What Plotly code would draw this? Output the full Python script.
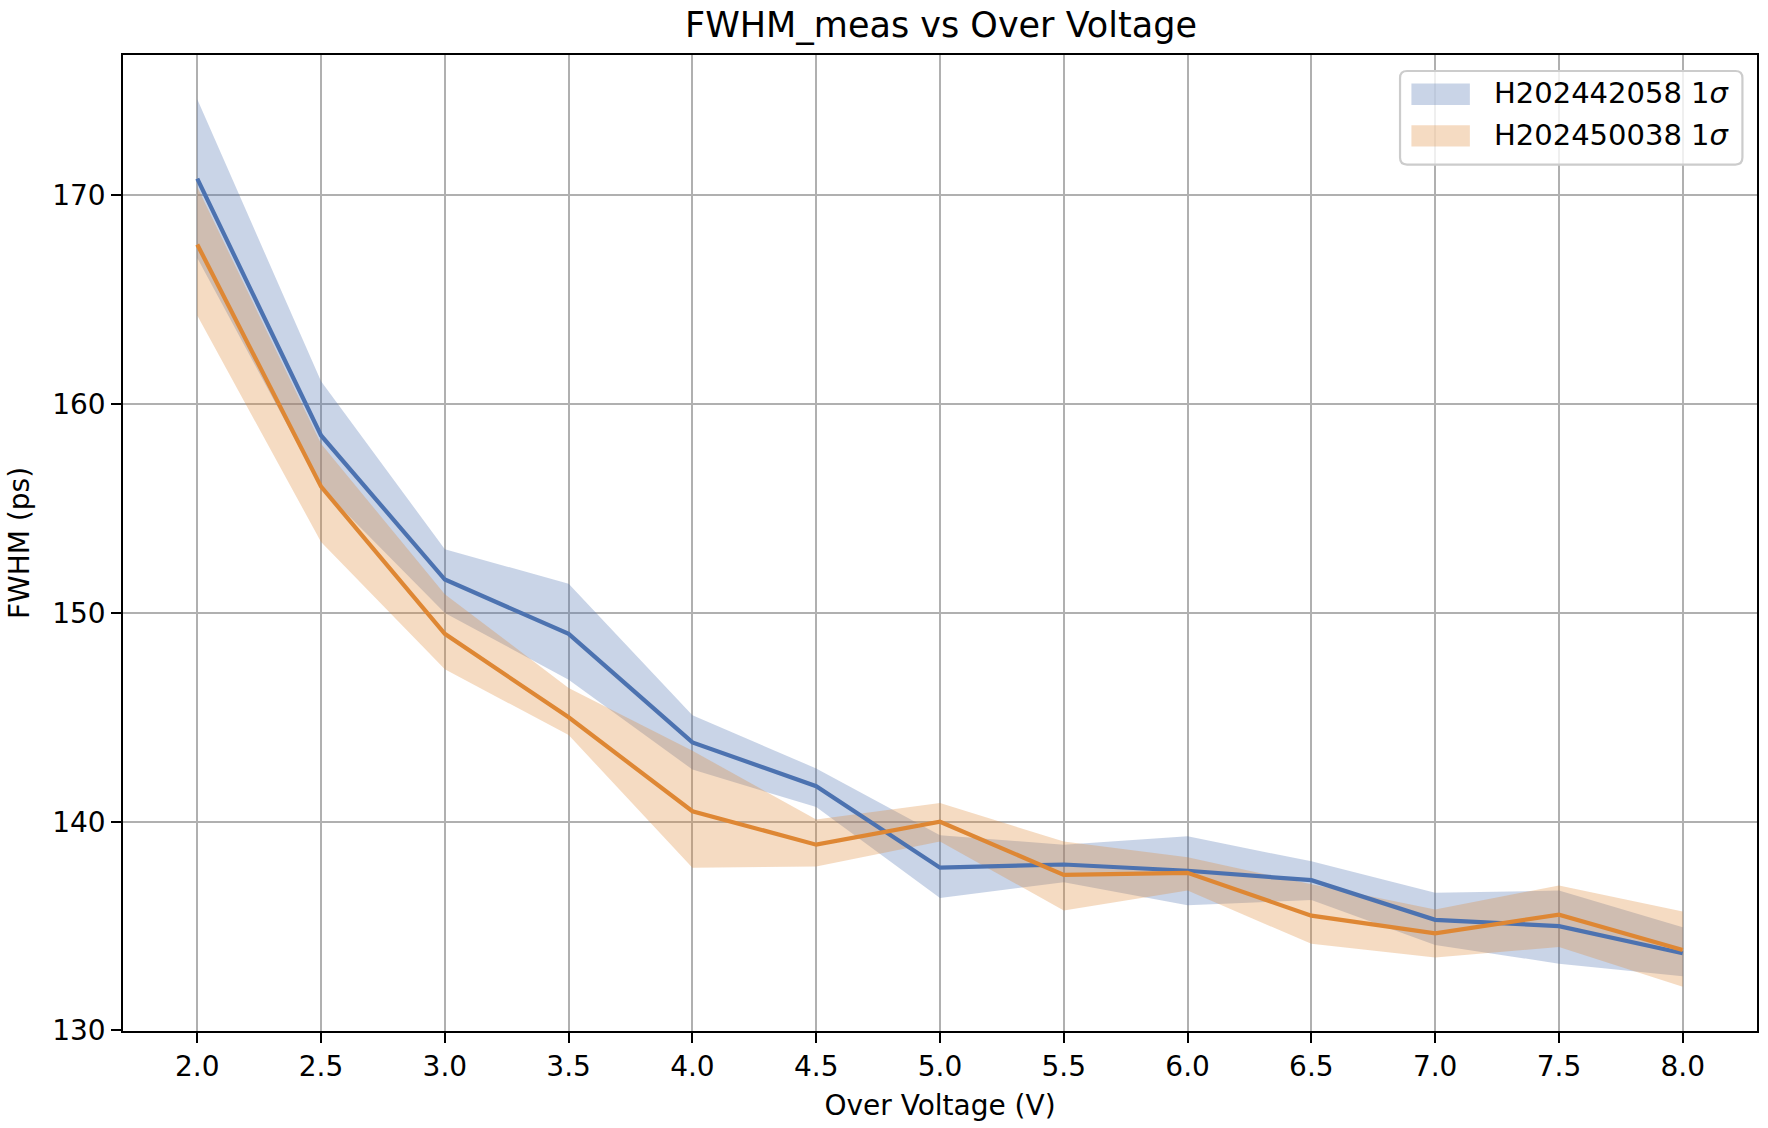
import plotly.graph_objects as go

over_voltage = [2.0, 2.5, 3.0, 3.5, 4.0, 4.5, 5.0, 5.5, 6.0, 6.5, 7.0, 7.5, 8.0]

blue_name = "H202442058 1<i>σ</i>"
blue_mean = [170.8, 158.5, 151.6, 149.0, 143.8, 141.7, 137.8, 137.95, 137.65, 137.2, 135.3, 135.0, 133.7]
blue_upper = [174.6, 161.1, 153.05, 151.4, 145.1, 142.55, 139.35, 138.9, 139.3, 138.1, 136.6, 136.7, 134.95]
blue_lower = [167.0, 156.0, 150.0, 146.8, 142.5, 140.7, 136.35, 137.1, 136.0, 136.25, 134.1, 133.2, 132.6]

orange_name = "H202450038 1<i>σ</i>"
orange_mean = [167.65, 156.05, 149.0, 145.0, 140.5, 138.9, 140.0, 137.45, 137.55, 135.5, 134.65, 135.55, 133.85]
orange_upper = [170.4, 158.1, 150.9, 146.4, 143.4, 140.1, 140.9, 139.05, 138.3, 137.0, 135.8, 136.95, 135.7]
orange_lower = [164.25, 153.4, 147.3, 144.15, 137.8, 137.85, 139.05, 135.75, 136.7, 134.15, 133.5, 134.0, 132.1]

x_ticks = [2.0, 2.5, 3.0, 3.5, 4.0, 4.5, 5.0, 5.5, 6.0, 6.5, 7.0, 7.5, 8.0]
y_ticks = [130, 140, 150, 160, 170]

BLUE = "#4C72B0"
ORANGE = "#DE8734"
BLUE_FILL = "rgba(76,114,176,0.3)"
ORANGE_FILL = "rgba(222,135,52,0.3)"
FONT = "DejaVu Sans"

W, H = 1768, 1128
ML, MR, MT, MB = 123, 9, 55, 97
PW, PH = W - ML - MR, H - MT - MB

fig = go.Figure()

series = [
    (blue_name, blue_mean, blue_upper, blue_lower, BLUE, BLUE_FILL),
    (orange_name, orange_mean, orange_upper, orange_lower, ORANGE, ORANGE_FILL),
]

# 1-sigma bands
for name, mean, up, lo, col, fcol in series:
    fig.add_trace(go.Scatter(
        x=over_voltage + over_voltage[::-1],
        y=up + lo[::-1],
        fill="toself",
        fillcolor=fcol,
        line=dict(width=0, color=fcol),
        mode="lines",
        name=name,
        showlegend=False,
        hoverinfo="skip",
    ))
# mean lines on top
for name, mean, up, lo, col, fcol in series:
    fig.add_trace(go.Scatter(
        x=over_voltage, y=mean, mode="lines",
        line=dict(color=col, width=4.2),
        showlegend=False,
    ))

# matplotlib-like autoscale with 5% margins
all_y = blue_upper + blue_lower + orange_upper + orange_lower
ymin, ymax = min(all_y), max(all_y)
ypad = 0.05 * (ymax - ymin)
xpad = 0.05 * (max(over_voltage) - min(over_voltage))

axis_common = dict(
    showline=True, linecolor="black", linewidth=2.2, mirror=True,
    showgrid=True, gridcolor="#b0b0b0", gridwidth=2.2,
    ticks="outside", ticklen=9.7, tickwidth=2.2, tickcolor="black",
    tickfont=dict(family=FONT, size=28, color="black"),
    zeroline=False,
)

# ---- matplotlib-style legend (patches + labels) in paper coordinates ----
def px_x(px):
    return (px - ML) / PW

def px_y(py):
    return 1 - (py - MT) / PH

shapes = []
annotations = []
bx0, bx1, by0, by1 = 1401.6, 1744.4, 71.0, 164.6
r = 7.0
rx, ry = r / PW, r / PH
X0, X1, Y0, Y1 = px_x(bx0), px_x(bx1), px_y(by1), px_y(by0)
path = (f"M{X0 + rx},{Y1} L{X1 - rx},{Y1} Q{X1},{Y1} {X1},{Y1 - ry} "
        f"L{X1},{Y0 + ry} Q{X1},{Y0} {X1 - rx},{Y0} L{X0 + rx},{Y0} "
        f"Q{X0},{Y0} {X0},{Y0 + ry} L{X0},{Y1 - ry} Q{X0},{Y1} {X0 + rx},{Y1} Z")
shapes.append(dict(type="path", xref="paper", yref="paper", path=path,
                   fillcolor="rgba(255,255,255,0.8)", line=dict(color="#cccccc", width=2.2),
                   layer="above"))
patch_rows = [(83.4, 104.9), (125.2, 146.6)]
for (name, mean, up, lo, col, fcol), (py0, py1) in zip(series, patch_rows):
    shapes.append(dict(type="rect", xref="paper", yref="paper",
                       x0=px_x(1413), x1=px_x(1471.5), y0=px_y(py1), y1=px_y(py0),
                       fillcolor=fcol, line=dict(width=0), layer="above"))
    annotations.append(dict(xref="paper", yref="paper", x=px_x(1494), y=px_y((py0 + py1) / 2 - 1),
                            xanchor="left", yanchor="middle", showarrow=False, text=name,
                            font=dict(family=FONT, size=29, color="black")))

fig.update_layout(
    width=W, height=H,
    margin=dict(l=ML, r=MR, t=MT, b=MB),
    paper_bgcolor="white", plot_bgcolor="white",
    font=dict(family=FONT, size=28, color="black"),
    title=dict(text="FWHM_meas vs Over Voltage", x=(ML + PW / 2) / W, xanchor="center",
               y=1 - 25 / H, yanchor="middle", yref="container",
               font=dict(family=FONT, size=35, color="black")),
    xaxis=dict(range=[min(over_voltage) - xpad, max(over_voltage) + xpad],
               tickvals=x_ticks, ticktext=[f"{v:.1f}" for v in x_ticks],
               title=dict(text="Over Voltage (V)", standoff=13,
                          font=dict(family=FONT, size=28, color="black")),
               **axis_common),
    yaxis=dict(range=[ymin - ypad, ymax + ypad],
               tickvals=y_ticks, ticktext=[str(v) for v in y_ticks],
               title=dict(text="FWHM (ps)", standoff=14,
                          font=dict(family=FONT, size=28, color="black")),
               **axis_common),
    shapes=shapes,
    annotations=annotations,
    showlegend=False,
)

fig.write_html("out.html")
